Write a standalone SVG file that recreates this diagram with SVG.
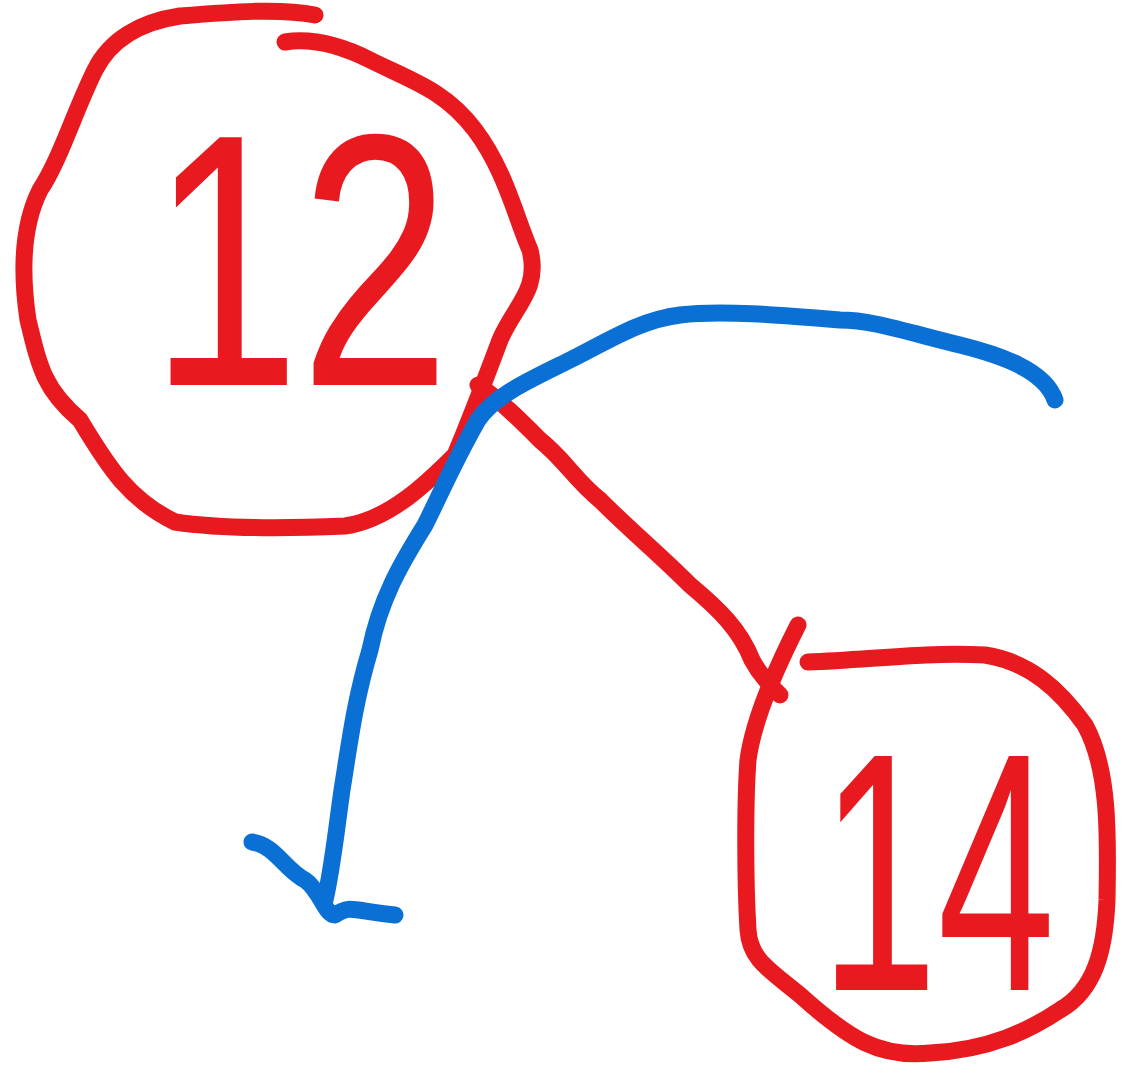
<svg xmlns="http://www.w3.org/2000/svg" width="1134" height="1081" viewBox="0 0 1134 1081">
<style>
.red{fill:none;stroke:#e8191f;stroke-width:17;stroke-linecap:round;stroke-linejoin:round}
.blue{fill:none;stroke:#0a70d6;stroke-width:17;stroke-linecap:round;stroke-linejoin:round}
.lbl{fill:#e8191f}
</style>
<rect width="1134" height="1081" fill="#ffffff"/>
<g id="node-12">
<path class="red" d="M315,15 C280,8 230,12 180,16 C140,22 110,40 95,70 C75,110 60,160 40,190 C20,230 22,280 28,320 C40,370 45,390 80,420 C110,470 130,500 175,522 C230,530 300,528 345,526 C390,520 430,480 455,455 C470,420 485,380 500,340 C515,305 540,290 530,250 C515,215 505,170 475,130 C445,90 410,80 370,60 C340,45 310,38 285,42"/>
<text class="lbl" x="150" y="385" font-family="Liberation Sans, Arial, sans-serif" font-size="360" textLength="300" lengthAdjust="spacingAndGlyphs">12</text>
</g>
<g id="node-14">
<path class="red" d="M808,662 C870,660 920,652 985,655 C1030,662 1060,690 1085,725 C1110,770 1108,840 1107,900 C1105,950 1095,990 1060,1010 C1030,1030 990,1050 930,1053 C880,1058 850,1040 800,995 C770,970 750,960 748,930 C745,880 745,800 748,760 C752,730 765,690 798,625"/>
<text class="lbl" x="820" y="990" font-family="Liberation Sans, Arial, sans-serif" font-size="340" textLength="235" lengthAdjust="spacingAndGlyphs">14</text>
</g>
<g id="connectors">
<path class="red" d="M478,385 C500,400 520,420 540,440 C565,460 575,480 600,500 C630,530 660,555 690,585 C720,610 740,630 752,660 C760,675 770,685 780,695"/>
<path class="blue" d="M1055,400 C1045,370 1000,355 960,345 C900,330 870,320 840,320 C780,315 720,310 680,315 C640,320 610,340 570,360 C530,380 495,395 478,420 C455,460 440,495 425,525 C400,565 380,600 370,650 C355,700 350,740 342,790 C335,840 332,870 325,900"/>
<path class="blue" d="M252,842 C275,845 285,870 305,880 C320,890 325,915 335,915 C350,905 350,910 395,915"/>
</g>
</svg>
